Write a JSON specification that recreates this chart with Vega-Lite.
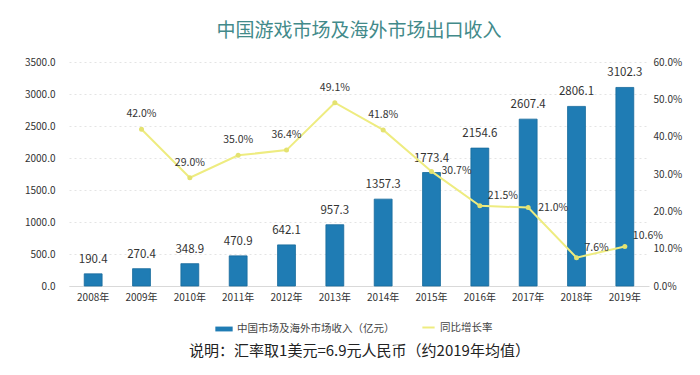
{
  "$schema": "https://vega.github.io/schema/vega-lite/v6.json",
  "width": 580,
  "height": 224,
  "autosize": {"type": "none"},
  "padding": {"left": 69, "top": 62, "right": 51, "bottom": 89},
  "background": "white",
  "title": {
    "text": "中国游戏市场及海外市场出口收入",
    "fontSize": 19,
    "font": "Noto Sans CJK SC",
    "fontWeight": "normal",
    "color": "#428a8a",
    "offset": 16
  },
  "config": {
    "view": {"stroke": null},
    "font": "Noto Sans CJK SC"
  },
  "data": {
    "values": [
      {"year": "2008年", "revenue": 190.4, "rate": null},
      {"year": "2009年", "revenue": 270.4, "rate": 0.42},
      {"year": "2010年", "revenue": 348.9, "rate": 0.29},
      {"year": "2011年", "revenue": 470.9, "rate": 0.35},
      {"year": "2012年", "revenue": 642.1, "rate": 0.364},
      {"year": "2013年", "revenue": 957.3, "rate": 0.491},
      {"year": "2014年", "revenue": 1357.3, "rate": 0.418},
      {"year": "2015年", "revenue": 1773.4, "rate": 0.307},
      {"year": "2016年", "revenue": 2154.6, "rate": 0.215},
      {"year": "2017年", "revenue": 2607.4, "rate": 0.21},
      {"year": "2018年", "revenue": 2806.1, "rate": 0.076},
      {"year": "2019年", "revenue": 3102.3, "rate": 0.106}
    ]
  },
  "encoding": {
    "x": {
      "field": "year",
      "type": "ordinal",
      "scale": {"paddingInner": 0.63, "paddingOuter": 0.315},
      "axis": {
        "labelAngle": 0,
        "labelFontSize": 10,
        "labelColor": "#333",
        "labelPadding": 6,
        "ticks": false,
        "domain": true,
        "domainColor": "#d9d9d9",
        "title": "说明：汇率取1美元=6.9元人民币（约2019年均值）",
        "titleFontSize": 15,
        "titleFontWeight": "normal",
        "titleColor": "#222",
        "titlePadding": 41
      }
    }
  },
  "layer": [
    {
      "encoding": {
        "y": {
          "field": "revenue",
          "type": "quantitative",
          "scale": {"domain": [0, 3500]},
          "axis": {
            "orient": "left",
            "values": [0, 500, 1000, 1500, 2000, 2500, 3000, 3500],
            "format": ".1f",
            "title": null,
            "domain": false,
            "ticks": false,
            "labelPadding": 14,
            "labelFontSize": 10,
            "labelColor": "#333",
            "grid": true,
            "gridColor": "#e4e4e4",
            "gridDash": [2, 3]
          }
        }
      },
      "layer": [
        {
          "mark": {"type": "bar", "stroke": "#176a9c", "strokeWidth": 0.8},
          "encoding": {
            "fill": {
              "datum": "中国市场及海外市场收入（亿元）",
              "type": "nominal",
              "scale": {"range": ["#1f7cb4"]},
              "legend": {
                "orient": "none",
                "legendX": 146,
                "legendY": 258,
                "title": null,
                "direction": "horizontal",
                "symbolType": "M-1,-0.28H1V0.28H-1Z",
                "symbolSize": 300,
                "symbolStrokeWidth": 0,
                "labelFontSize": 10.5,
                "labelLimit": 0,
                "labelColor": "#444"
              }
            }
          }
        },
        {
          "mark": {"type": "text", "dy": -9, "fontSize": 11.5, "color": "#333", "baseline": "bottom"},
          "encoding": {
            "text": {"field": "revenue", "type": "quantitative", "format": ".1f"}
          }
        }
      ]
    },
    {
      "encoding": {
        "y": {
          "field": "rate",
          "type": "quantitative",
          "scale": {"domain": [0, 0.6]},
          "axis": {
            "orient": "right",
            "values": [0, 0.1, 0.2, 0.3, 0.4, 0.5, 0.6],
            "format": ".1%",
            "title": null,
            "domain": false,
            "ticks": false,
            "labelPadding": 4,
            "labelFontSize": 10,
            "labelColor": "#333",
            "grid": false
          }
        }
      },
      "layer": [
        {
          "mark": {"type": "line", "strokeWidth": 2},
          "encoding": {
            "stroke": {
              "datum": "同比增长率",
              "type": "nominal",
              "scale": {"range": ["#eeec80"]},
              "legend": {
                "orient": "none",
                "legendX": 352,
                "legendY": 258,
                "title": null,
                "direction": "horizontal",
                "symbolType": "stroke",
                "symbolSize": 150,
                "symbolStrokeWidth": 2,
                "labelFontSize": 10.5,
                "labelLimit": 0,
                "labelColor": "#444"
              }
            }
          }
        },
        {
          "mark": {"type": "point", "filled": true, "size": 25, "color": "#e4e270", "opacity": 1},
          "transform": [{"filter": "datum.rate != null"}]
        },
        {
          "transform": [{"filter": "datum.rate != null && datum.year < '2015年'"}],
          "mark": {"type": "text", "dy": -15, "fontSize": 10.5, "color": "#333"},
          "encoding": {"text": {"field": "rate", "type": "quantitative", "format": ".1%"}}
        },
        {
          "transform": [{"filter": "indexof(['2015年', '2017年'], datum.year) >= 0"}],
          "mark": {"type": "text", "dx": 10, "dy": 0, "align": "left", "fontSize": 10.5, "color": "#333"},
          "encoding": {"text": {"field": "rate", "type": "quantitative", "format": ".1%"}}
        },
        {
          "transform": [{"filter": "indexof(['2016年', '2018年', '2019年'], datum.year) >= 0"}],
          "mark": {"type": "text", "dx": 8, "dy": -10, "align": "left", "fontSize": 10.5, "color": "#333"},
          "encoding": {"text": {"field": "rate", "type": "quantitative", "format": ".1%"}}
        }
      ]
    }
  ],
  "resolve": {"scale": {"y": "independent", "fill": "independent", "stroke": "independent"}}
}
